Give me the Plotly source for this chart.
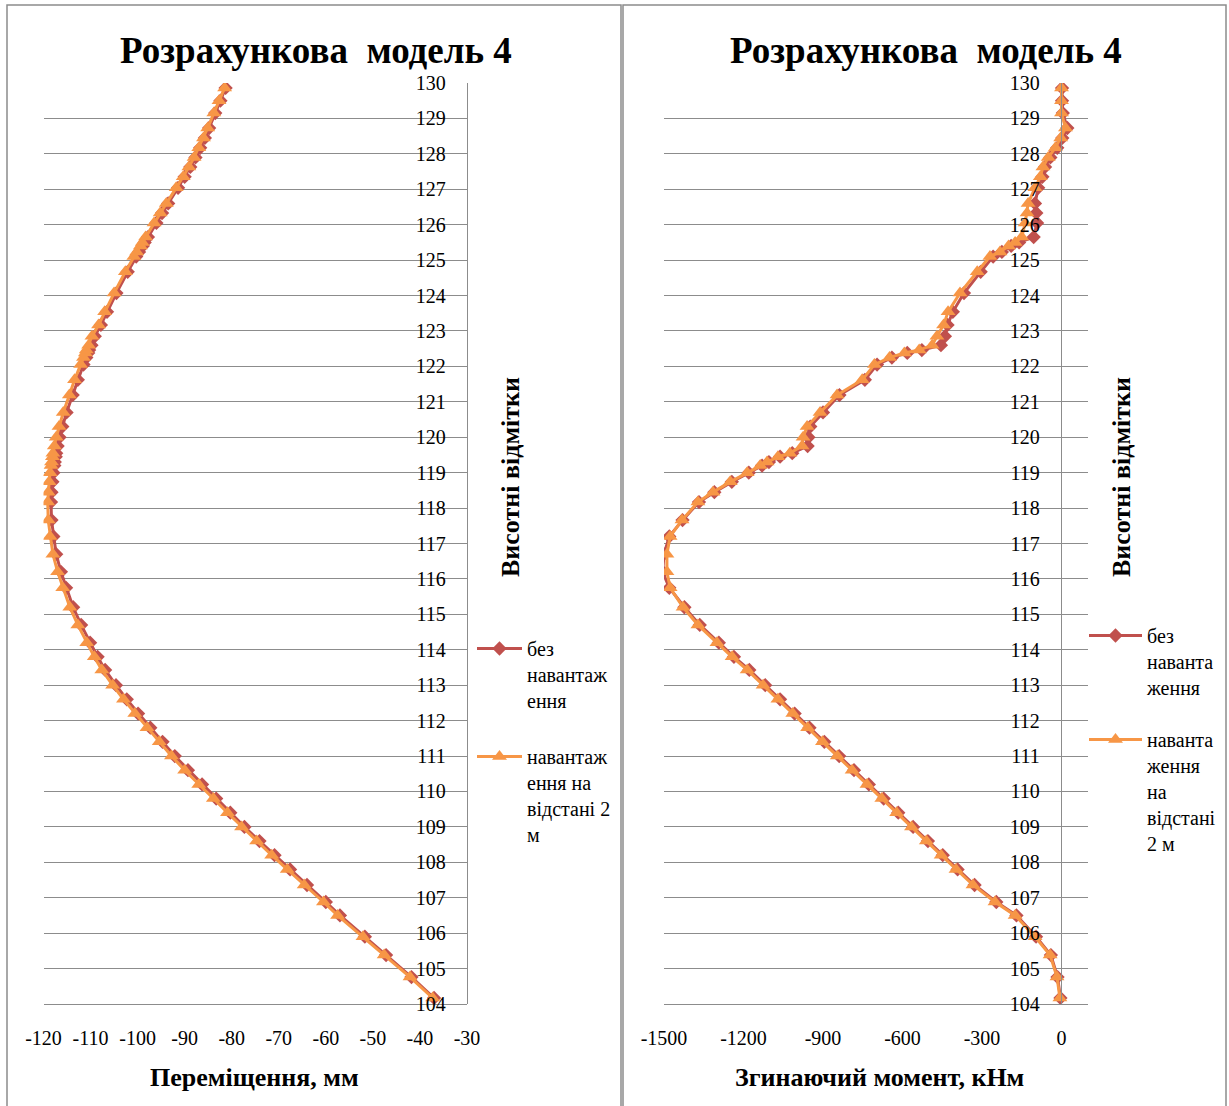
import plotly.graph_objects as go

# Node elevations along the pile (shared by both charts)
elevations = [
    104.17, 104.76, 105.38, 105.9, 106.5, 106.88, 107.36, 107.8, 108.2, 108.6,
    109.0, 109.4, 109.8, 110.2, 110.6, 111.0, 111.4, 111.8, 112.2, 112.6,
    113.0, 113.43, 113.8, 114.2, 114.7, 115.2, 115.75, 116.2, 116.7, 117.2,
    117.66, 118.17, 118.45, 118.74, 119.0, 119.2, 119.3, 119.45, 119.55, 119.75,
    120.0, 120.3, 120.7, 121.19, 121.62, 122.05, 122.25, 122.38, 122.46, 122.6,
    122.85, 123.17, 123.54, 124.07, 124.67, 125.1, 125.23, 125.4, 125.5, 125.65,
    126.05, 126.33, 126.6, 127.04, 127.35, 127.63, 127.9, 128.17, 128.45, 128.73,
    129.15, 129.5, 129.86,
]

# Displacement, mm
disp_unloaded = [
    -37.0, -41.8, -47.2, -51.7, -57.0, -60.0, -64.0, -67.6, -70.9, -74.1,
    -77.3, -80.3, -83.3, -86.3, -89.3, -92.1, -94.7, -97.3, -99.9, -102.3,
    -104.6, -106.9, -108.5, -110.1, -112.0, -113.7, -115.2, -116.3, -117.3, -117.9,
    -118.3, -118.4, -118.3, -118.1, -117.9, -117.7, -117.6, -117.4, -117.3, -117.0,
    -116.6, -116.0, -115.1, -113.8, -112.7, -111.5, -110.9, -110.5, -110.3, -109.8,
    -109.1, -107.8, -106.5, -104.5, -102.1, -100.3, -99.7, -98.9, -98.5, -97.8,
    -96.0, -94.8, -93.5, -91.4, -90.0, -88.8, -87.7, -86.7, -85.7, -84.8,
    -83.5, -82.4, -81.3,
]
disp_loaded_2m = [
    -37.3, -42.1, -47.6, -52.1, -57.5, -60.5, -64.6, -68.2, -71.5, -74.7,
    -77.9, -80.9, -83.9, -87.0, -90.0, -92.8, -95.4, -98.0, -100.6, -103.0,
    -105.3, -107.6, -109.2, -110.8, -112.7, -114.4, -115.9, -117.0, -118.0, -118.6,
    -119.0, -119.1, -119.0, -118.8, -118.6, -118.4, -118.3, -118.1, -118.0, -117.7,
    -117.3, -116.7, -115.8, -114.5, -113.4, -112.1, -111.5, -111.1, -110.9, -110.4,
    -109.7, -108.3, -107.0, -105.0, -102.6, -100.8, -100.2, -99.4, -99.0, -98.3,
    -96.5, -95.2, -93.9, -91.8, -90.3, -89.1, -88.0, -87.0, -86.0, -85.1,
    -83.8, -82.7, -81.5,
]

# Bending moment, kN*m
moment_unloaded = [
    -4, -15, -40, -96, -170, -246, -328, -392, -448, -504,
    -560, -616, -671, -727, -783, -839, -895, -951, -1007, -1062,
    -1118, -1178, -1236, -1293, -1365, -1423, -1480, -1505, -1500, -1480,
    -1430, -1368, -1310, -1244, -1180, -1130, -1104, -1062, -1016, -958,
    -955, -948, -900, -838, -742, -696, -640, -582, -527, -455,
    -440, -430, -410, -368, -305, -258, -225, -190, -160, -105,
    -92, -95, -100, -88, -72, -62, -42, -16, 3, 22,
    5, 2, 2,
]
moment_loaded_2m = [
    -6, -17, -43, -100, -175, -251, -334, -398, -454, -510,
    -566, -622, -678, -734, -790, -846, -902, -958, -1014, -1070,
    -1126, -1186, -1243, -1300, -1372, -1428, -1477, -1489, -1489, -1477,
    -1432, -1372, -1315, -1250, -1186, -1137, -1111, -1070, -1025, -979,
    -975, -960, -911, -847, -752, -706, -649, -593, -537, -488,
    -470, -445, -428, -383, -318, -270, -232, -200, -175, -150,
    -137, -130, -126, -100, -80, -70, -50, -23, -3, 15,
    0, 0, 0,
]

disp_ticks = [-120, -110, -100, -90, -80, -70, -60, -50, -40, -30]
moment_ticks = [-1500, -1200, -900, -600, -300, 0]
elev_ticks = list(range(104, 131))

chart_title = "Розрахункова&nbsp; модель 4"
disp_title = "Переміщення, мм"
moment_title = "Згинаючий момент, кНм"
elev_title = "Висотні відмітки"

W, H = 1229, 1106
RED = "#C0504D"
ORANGE = "#F79646"
GRID = "#8C8C8C"
FONT = "Liberation Serif"


def px_x(p):
    return p / W


def px_y(p):
    return 1 - p / H


fig = go.Figure()

series = [
    (disp_unloaded, "x", "y", RED, "diamond", 11, "без<br>навантаж<br>ення", "legend", "a"),
    (disp_loaded_2m, "x", "y", ORANGE, "triangle-up", 13,
     "навантаж<br>ення на<br>відстані 2<br>м", "legend", "b"),
    (moment_unloaded, "x2", "y2", RED, "diamond", 11, "без<br>наванта<br>ження", "legend2", "c"),
    (moment_loaded_2m, "x2", "y2", ORANGE, "triangle-up", 13,
     "наванта<br>ження<br>на<br>відстані<br>2 м", "legend2", "d"),
]
for vals, xa, ya, col, sym, size, name, leg, grp in series:
    fig.add_trace(go.Scatter(
        x=vals, y=elevations, xaxis=xa, yaxis=ya, mode="lines+markers",
        line=dict(color=col, width=3),
        marker=dict(symbol=sym, size=size, color=col),
        name=name, legend=leg, legendgroup=grp,
    ))

y_domain = [px_y(1004), px_y(83)]
tickfont = dict(family=FONT, size=20, color="black")


def yaxis_cfg(pos):
    return dict(
        domain=y_domain, range=[104, 130], tickvals=elev_ticks,
        ticktext=[str(v) for v in elev_ticks],
        anchor="free", position=pos, side="left", automargin=False,
        showgrid=True, gridcolor=GRID, gridwidth=1.3,
        showline=True, linecolor=GRID, linewidth=1.3,
        ticks="outside", ticklen=17, tickcolor="rgba(0,0,0,0)",
        tickfont=tickfont, zeroline=False, fixedrange=True,
    )


def xaxis_cfg(dom, rng, ticks, anchor):
    return dict(
        domain=dom, range=rng, tickvals=ticks, ticktext=[str(v) for v in ticks],
        anchor=anchor, showgrid=False, zeroline=False, automargin=False,
        showline=True, linecolor=GRID, linewidth=1.3,
        ticks="outside", ticklen=16, tickcolor="rgba(0,0,0,0)",
        tickfont=tickfont, fixedrange=True,
    )


legend_common = dict(
    font=dict(family=FONT, size=20, color="black"),
    bgcolor="rgba(0,0,0,0)", borderwidth=0, valign="top",
    xanchor="left", yanchor="top",
)

fig.update_layout(
    template="none",
    width=W, height=H, margin=dict(l=0, r=0, t=0, b=0, autoexpand=False),
    paper_bgcolor="white", plot_bgcolor="white",
    xaxis=xaxis_cfg([px_x(43.5), px_x(467)], [-120, -30], disp_ticks, "y"),
    yaxis=yaxis_cfg(px_x(467)),
    xaxis2=xaxis_cfg([px_x(664), px_x(1088)], [-1500, 100], moment_ticks, "y2"),
    yaxis2=yaxis_cfg(px_x(1061)),
    legend=dict(x=px_x(472), y=px_y(629), tracegroupgap=27, itemwidth=45, **legend_common),
    legend2=dict(x=px_x(1084), y=px_y(616), tracegroupgap=23, itemwidth=53, **legend_common),
    showlegend=True,
)

# Chart frames
frame = dict(type="rect", xref="paper", yref="paper",
             line=dict(color="#8C8C8C", width=1.5), fillcolor="rgba(0,0,0,0)", layer="above")
fig.add_shape(x0=px_x(7), x1=px_x(621), y0=px_y(1110), y1=px_y(5), **frame)
fig.add_shape(x0=px_x(623), x1=px_x(1226), y0=px_y(1110), y1=px_y(5), **frame)

bold = dict(family=FONT, color="black")
texts = [
    (316, 50, chart_title, 37, 0),
    (926, 50, chart_title, 37, 0),
    (255, 1077, disp_title, 26, 0),
    (879, 1077, moment_title, 26, 0),
    (510, 477, elev_title, 26, -90),
    (1121, 477, elev_title, 26, -90),
]
for x, y, t, s, ang in texts:
    fig.add_annotation(
        x=px_x(x), y=px_y(y), xref="paper", yref="paper", text="<b>" + t + "</b>",
        showarrow=False, textangle=ang, xanchor="center", yanchor="middle",
        font=dict(size=s, **bold),
    )

fig.write_html("out.html")
